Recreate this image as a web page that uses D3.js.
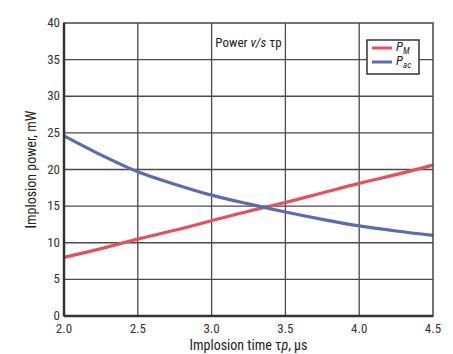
<!DOCTYPE html>
<html>
<head>
<meta charset="utf-8">
<script src="https://cdn.jsdelivr.net/npm/d3@7"></script>
<style>
  body { margin: 0; background: #fff; }
  svg { display: block; font-family: "Liberation Sans Narrow", "Roboto Condensed", "Liberation Sans", sans-serif; }
</style>
</head>
<body>
<div id="chart"></div>
<script>
// 数据
const tauP = [2.0, 2.25, 2.5, 2.75, 3.0, 3.25, 3.5, 3.75, 4.0, 4.25, 4.5];
const pM   = [8.0, 9.2, 10.5, 11.7, 13.0, 14.3, 15.5, 16.8, 18.1, 19.3, 20.6];
const pAc  = [24.6, 22.0, 19.7, 18.0, 16.5, 15.3, 14.2, 13.2, 12.3, 11.6, 11.0];
const xTicks = [2.0, 2.5, 3.0, 3.5, 4.0, 4.5];
const yTicks = [0, 5, 10, 15, 20, 25, 30, 35, 40];
const series = [
  { name: "M", values: pM, color: "#e5505c" },
  { name: "ac", values: pAc, color: "#5a6bb0" }
];

const width = 453, height = 354;
const margin = { left: 64, top: 23, right: 20, bottom: 38 };

const svg = d3.select("#chart").append("svg").attr("width", width).attr("height", height);

const x = d3.scaleLinear().domain([2.0, 4.5]).range([margin.left, width - margin.right]);
const y = d3.scaleLinear().domain([0, 40]).range([height - margin.bottom, margin.top]);

// 网格
const grid = svg.append("g");
grid.selectAll("line.v").data(xTicks.slice(1, -1)).enter().append("line")
  .attr("x1", d => x(d)).attr("x2", d => x(d))
  .attr("y1", y(0)).attr("y2", y(40))
  .attr("stroke", "#4a4a4a").attr("stroke-width", 1.3);
grid.selectAll("line.h").data(yTicks.slice(1, -1)).enter().append("line")
  .attr("x1", x(2.0)).attr("x2", x(4.5))
  .attr("y1", d => y(d)).attr("y2", d => y(d))
  .attr("stroke", "#4a4a4a").attr("stroke-width", 1.3);

// 标题（白底）
const title = svg.append("text")
  .attr("x", x(3.25)).attr("y", 47)
  .attr("text-anchor", "middle")
  .style("font-size", "13px").style("fill", "#222");
title.append("tspan").text("Power ");
title.append("tspan").style("font-style", "italic").text("v/s");
title.append("tspan").text(" τp");
const tb = title.node().getBBox();
svg.insert("rect", "text").attr("x", tb.x - 2).attr("y", tb.y - 2)
  .attr("width", tb.width + 4).attr("height", tb.height + 4).attr("fill", "#fff");

// 曲线
const line = d3.line().x((d, i) => x(tauP[i])).y(d => y(d)).curve(d3.curveMonotoneX);
svg.selectAll("path.series").data(series).enter().append("path")
  .attr("d", d => line(d.values))
  .attr("fill", "none")
  .attr("stroke", d => d.color)
  .attr("stroke-width", 3.2);

// 边框
svg.append("rect")
  .attr("x", x(2.0)).attr("y", y(40))
  .attr("width", x(4.5) - x(2.0)).attr("height", y(0) - y(40))
  .attr("fill", "none").attr("stroke", "#444").attr("stroke-width", 1.5);
svg.append("line").attr("x1", x(2.0)).attr("x2", x(4.5)).attr("y1", y(0)).attr("y2", y(0))
  .attr("stroke", "#333").attr("stroke-width", 2.5);
svg.append("line").attr("x1", x(2.0)).attr("x2", x(2.0)).attr("y1", y(0)).attr("y2", y(40))
  .attr("stroke", "#333").attr("stroke-width", 2.5);

// 刻度文字
svg.selectAll("text.yt").data(yTicks).enter().append("text")
  .attr("x", x(2.0) - 4).attr("y", d => y(d) + 4)
  .attr("text-anchor", "end")
  .style("font-size", "13px").style("fill", "#333")
  .text(d => d);
svg.selectAll("text.xt").data(xTicks).enter().append("text")
  .attr("x", d => x(d)).attr("y", y(0) + 17)
  .attr("text-anchor", "middle")
  .style("font-size", "13px").style("fill", "#333")
  .text(d => d.toFixed(1));

// 轴标题
const xl = svg.append("text").attr("x", x(3.25)).attr("y", 350)
  .attr("text-anchor", "middle").style("font-size", "14px").style("fill", "#222");
xl.append("tspan").text("Implosion time τ");
xl.append("tspan").style("font-style", "italic").text("p");
xl.append("tspan").text(", μs");

svg.append("text")
  .attr("transform", `translate(36,${y(20)}) rotate(-90)`)
  .attr("text-anchor", "middle")
  .style("font-size", "14px").style("fill", "#222")
  .text("Implosion power, mW");

// 图例
const lg = svg.append("g").attr("transform", "translate(367,40)");
lg.append("rect").attr("width", 52).attr("height", 34)
  .attr("fill", "#fff").attr("stroke", "#333").attr("stroke-width", 1.5);
series.forEach((s, i) => {
  const yy = 8 + i * 14;
  lg.append("line").attr("x1", 5).attr("x2", 25).attr("y1", yy).attr("y2", yy)
    .attr("stroke", s.color).attr("stroke-width", 3);
  const t = lg.append("text").attr("x", 29).attr("y", yy + 3)
    .style("font-size", "13px").style("font-style", "italic").style("fill", "#222");
  t.append("tspan").text("P");
  t.append("tspan").attr("dy", 3).style("font-size", "9px").text(s.name);
});
</script>
</body>
</html>
